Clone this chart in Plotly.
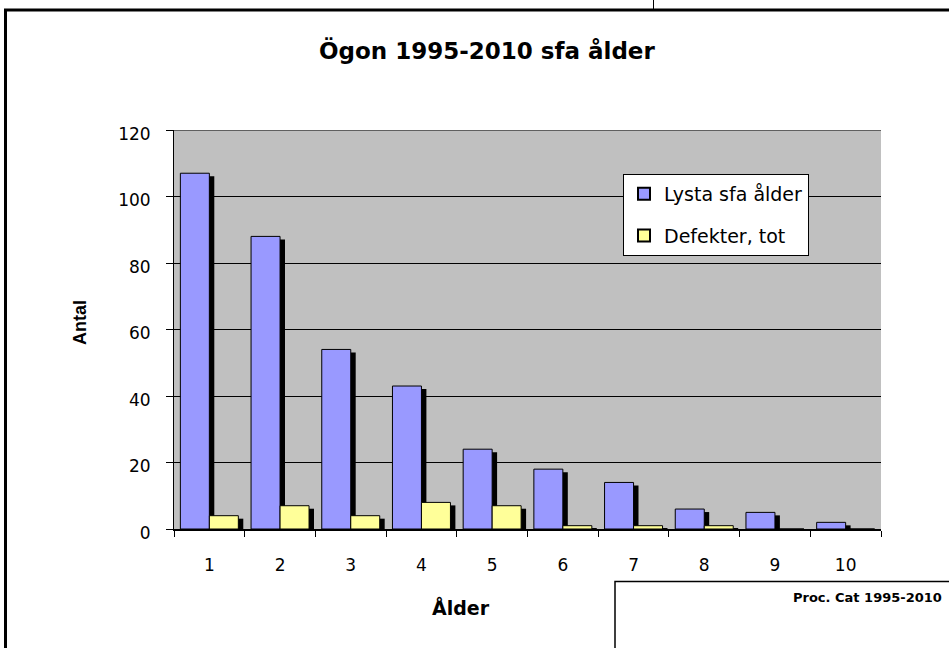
import plotly.graph_objects as go

# ---- data ----
ages = ["1", "2", "3", "4", "5", "6", "7", "8", "9", "10"]
lysta = [107, 88, 54, 43, 24, 18, 14, 6, 5, 2]
defekter = [4, 7, 4, 8, 7, 1, 1, 1, 0, 0]
y_ticks = [0, 20, 40, 60, 80, 100, 120]
series_names = ["Lysta sfa ålder", "Defekter, tot"]
title_text = "Ögon 1995-2010 sfa ålder"
x_title = "Ålder"
y_title = "Antal"
note_text = "Proc. Cat 1995-2010"

# ---- geometry helpers (pixel layout of the reference) ----
W, H = 949, 648
L, R, T, B = 174, 881, 130, 529          # plot area in pixels
def px(x):
    return (x - L) / (R - L)
def py(y):
    return (B - y) / (B - T)

bar_w = 0.41
shadow_dx = 0.07
shadow_dy = 0.9
shadow_l = [max(v - shadow_dy, 0) for v in lysta]
shadow_d = [max(v - shadow_dy, 0) for v in defekter]

blue = "#9999FF"
yellow = "#FFFF99"
font_h = "DejaVu Sans"

fig = go.Figure()
# shadows
fig.add_trace(go.Bar(x=ages, y=shadow_l, width=bar_w, offset=-bar_w + shadow_dx,
                     marker=dict(color="black", line=dict(width=0)),
                     showlegend=False, hoverinfo="skip"))
fig.add_trace(go.Bar(x=ages, y=shadow_d, width=bar_w, offset=shadow_dx,
                     marker=dict(color="black", line=dict(width=0)),
                     showlegend=False, hoverinfo="skip"))
# main bars
fig.add_trace(go.Bar(x=ages, y=lysta, width=bar_w, offset=-bar_w, name=series_names[0],
                     legendgroup="a",
                     marker=dict(color=blue, line=dict(color="black", width=1))))
fig.add_trace(go.Bar(x=ages, y=defekter, width=bar_w, offset=0, name=series_names[1],
                     legendgroup="b",
                     marker=dict(color=yellow, line=dict(color="black", width=1))))

fig.update_layout(
    width=W, height=H,
    margin=dict(l=L, r=W - R, t=T, b=H - B),
    barmode="overlay",
    paper_bgcolor="white",
    plot_bgcolor="#C0C0C0",
    showlegend=True,
    legend=dict(x=px(623), y=py(174), xanchor="left", yanchor="top",
                bgcolor="white", bordercolor="black", borderwidth=1,
                font=dict(family=font_h, size=19, color="black"),
                traceorder="grouped", tracegroupgap=14,
                itemsizing="constant"),
    xaxis=dict(type="category", range=[-0.5, 9.5], tickson="boundaries",
               ticks="outside", ticklen=6, tickcolor="black", tickwidth=1,
               showline=True, linecolor="black", linewidth=2, showgrid=False,
               tickfont=dict(family=font_h, size=17, color="black"),
               ticklabelstandoff=20, fixedrange=True),
    yaxis=dict(range=[0, 120], tickvals=y_ticks, showgrid=True, gridcolor="black",
               gridwidth=1, showline=True, linecolor="black", linewidth=1,
               ticks="outside", ticklen=7, tickcolor="black", zeroline=False,
               tickfont=dict(family=font_h, size=17, color="black"),
               ticklabelstandoff=12, ticklabelshift=4),
    shapes=[
        # top gridline (at the axis maximum)
        dict(type="line", xref="paper", yref="y", layer="below",
             x0=0, x1=1, y0=y_ticks[-1], y1=y_ticks[-1],
             line=dict(color="black", width=1)),
        # outer frame
        dict(type="rect", xref="paper", yref="paper",
             x0=px(5.5), x1=px(W + 50), y0=py(H + 50), y1=py(10),
             line=dict(color="black", width=3), fillcolor="rgba(0,0,0,0)"),
        # bottom-right box
        dict(type="rect", xref="paper", yref="paper",
             x0=px(615), x1=px(W + 50), y0=py(H + 50), y1=py(581.5),
             line=dict(color="black", width=1.5), fillcolor="white"),
        # top-right box edge
        dict(type="line", xref="paper", yref="paper",
             x0=px(653.5), x1=px(653.5), y0=py(9), y1=py(-5),
             line=dict(color="black", width=1)),
    ],
    annotations=[
        dict(text=f"<b>{title_text}</b>", xref="paper", yref="paper",
             x=px(487), y=py(50), xanchor="center", yanchor="middle",
             showarrow=False, font=dict(family=font_h, size=23, color="black")),
        dict(text=f"<b>{x_title}</b>", xref="paper", yref="paper",
             x=px(461), y=py(607), xanchor="center", yanchor="middle",
             showarrow=False, font=dict(family=font_h, size=19, color="black")),
        dict(text=f"<b>{y_title}</b>", xref="paper", yref="paper",
             x=px(80), y=py(322), xanchor="center", yanchor="middle", textangle=-90,
             showarrow=False, font=dict(family="Liberation Sans", size=18, color="black")),
        dict(text=f"<b>{note_text}</b>", xref="paper", yref="paper",
             x=px(944), y=py(597), xanchor="right", yanchor="middle",
             showarrow=False, font=dict(family=font_h, size=13, color="black")),
    ],
)

fig.write_html("out.html", config={"displayModeBar": False},
               post_script="document.body.style.margin='0px';document.body.style.padding='0px';")
